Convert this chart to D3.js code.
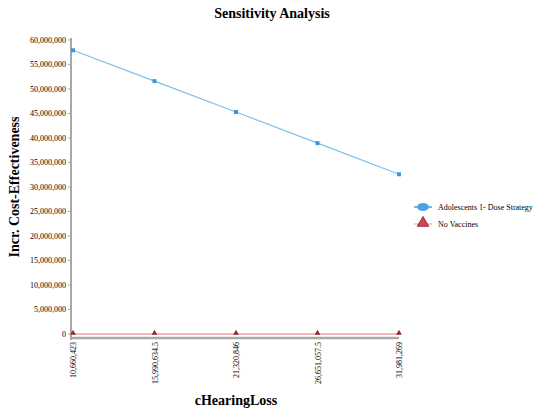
<!DOCTYPE html>
<html>
<head>
<meta charset="utf-8">
<script src="https://cdn.jsdelivr.net/npm/d3@7"></script>
<style>
  body { margin: 0; background: #fff; }
  text { font-family: "Liberation Serif", "Times New Roman", serif; }
</style>
</head>
<body>
<div id="chart"></div>
<script>
// sensitivity analysis on cHearingLoss
const xValues = [10660423, 15990634.5, 21320846, 26651057.5, 31981269];
const xLabels = ["10,660,423", "15,990,634.5", "21,320,846", "26,651,057.5", "31,981,269"];
const adolescents = [57900000, 51600000, 45300000, 38950000, 32600000];
const noVaccines = [0, 0, 0, 0, 0];
const yTicks = [0, 5e6, 10e6, 15e6, 20e6, 25e6, 30e6, 35e6, 40e6, 45e6, 50e6, 55e6, 60e6];
const seriesNames = ["Adolescents 1- Dose Strategy", "No Vaccines"];

const width = 544, height = 414;
const margin = {top: 40, left: 73, right: 145, bottom: 80};

const svg = d3.select("#chart").append("svg")
  .attr("width", width)
  .attr("height", height);

const x = d3.scaleLinear()
  .domain([xValues[0], xValues[xValues.length - 1]])
  .range([margin.left, width - margin.right]);

const y = d3.scaleLinear()
  .domain([0, 60e6])
  .range([height - margin.bottom, margin.top]);

// title
svg.append("text")
  .attr("x", 272).attr("y", 18)
  .attr("text-anchor", "middle")
  .attr("font-size", "14px").attr("font-weight", "bold")
  .text("Sensitivity Analysis");

// y axis
svg.append("line")
  .attr("x1", margin.left - 2).attr("x2", margin.left - 2)
  .attr("y1", y(60e6) - 2).attr("y2", y(0) + 6)
  .attr("stroke", "#a8a8a8").attr("stroke-width", 2);

const yg = svg.append("g");
yg.selectAll("line").data(yTicks).join("line")
  .attr("x1", margin.left - 5).attr("x2", margin.left - 2)
  .attr("y1", d => y(d)).attr("y2", d => y(d))
  .attr("stroke", "#a8a8a8");
yg.selectAll("text").data(yTicks).join("text")
  .attr("x", margin.left - 7).attr("y", d => y(d))
  .attr("dy", "0.32em")
  .attr("text-anchor", "end")
  .attr("font-size", "8px")
  .text(d => d3.format(",")(d));

svg.append("text")
  .attr("transform", `translate(19,${(y(0) + y(60e6)) / 2}) rotate(-90)`)
  .attr("text-anchor", "middle")
  .attr("font-size", "14px").attr("font-weight", "bold")
  .text("Incr. Cost-Effectiveness");

// x axis
const axisY = y(0) + 4;
svg.append("line")
  .attr("x1", margin.left - 2).attr("x2", x(xValues[4]))
  .attr("y1", axisY).attr("y2", axisY)
  .attr("stroke", "#a8a8a8").attr("stroke-width", 2.5);

const xg = svg.append("g");
xg.selectAll("text").data(xValues).join("text")
  .attr("transform", d => `translate(${x(d) + 3},${axisY + 4}) rotate(-90)`)
  .attr("text-anchor", "end")
  .attr("font-size", "8px")
  .text((d, i) => xLabels[i]);

svg.append("text")
  .attr("x", 236).attr("y", 405)
  .attr("text-anchor", "middle")
  .attr("font-size", "14px").attr("font-weight", "bold")
  .text("cHearingLoss");

// series
const line = d3.line().x((d, i) => x(xValues[i])).y(d => y(d));

svg.append("path").datum(noVaccines)
  .attr("d", line)
  .attr("fill", "none").attr("stroke", "#f4b6bd").attr("stroke-width", 2);

const tri = d3.symbol().type(d3.symbolTriangle).size(14);
svg.append("g").selectAll("path").data(noVaccines).join("path")
  .attr("transform", (d, i) => `translate(${x(xValues[i])},${y(d) - 1})`)
  .attr("d", tri)
  .attr("fill", "#8a2a3a");

svg.append("path").datum(adolescents)
  .attr("d", line)
  .attr("fill", "none").attr("stroke", "#7cc0ec").attr("stroke-width", 1.2);

svg.append("g").selectAll("rect").data(adolescents).join("rect")
  .attr("x", (d, i) => x(xValues[i]) - 2).attr("y", d => y(d) - 2)
  .attr("width", 4).attr("height", 4)
  .attr("fill", "#3d95dc");

// legend
const lg = svg.append("g").attr("transform", "translate(414,207)");
lg.append("line").attr("x1", 0).attr("x2", 18).attr("y1", 0).attr("y2", 0)
  .attr("stroke", "#4aa3e6").attr("stroke-width", 1.5);
lg.append("ellipse").attr("cx", 9).attr("cy", 0).attr("rx", 6).attr("ry", 4)
  .attr("fill", "#4aa3e6");
lg.append("line").attr("x1", 0).attr("x2", 18).attr("y1", 17).attr("y2", 17)
  .attr("stroke", "#f4b6bd").attr("stroke-width", 1.5);
lg.append("path")
  .attr("transform", "translate(9,16)")
  .attr("d", d3.symbol().type(d3.symbolTriangle).size(55))
  .attr("fill", "#e0404f").attr("stroke", "#6a1a22").attr("stroke-width", 0.8);
lg.selectAll("text").data(seriesNames).join("text")
  .attr("x", 24).attr("y", (d, i) => i * 17)
  .attr("dy", "0.32em")
  .attr("font-size", "8px")
  .text(d => d);
</script>
</body>
</html>
